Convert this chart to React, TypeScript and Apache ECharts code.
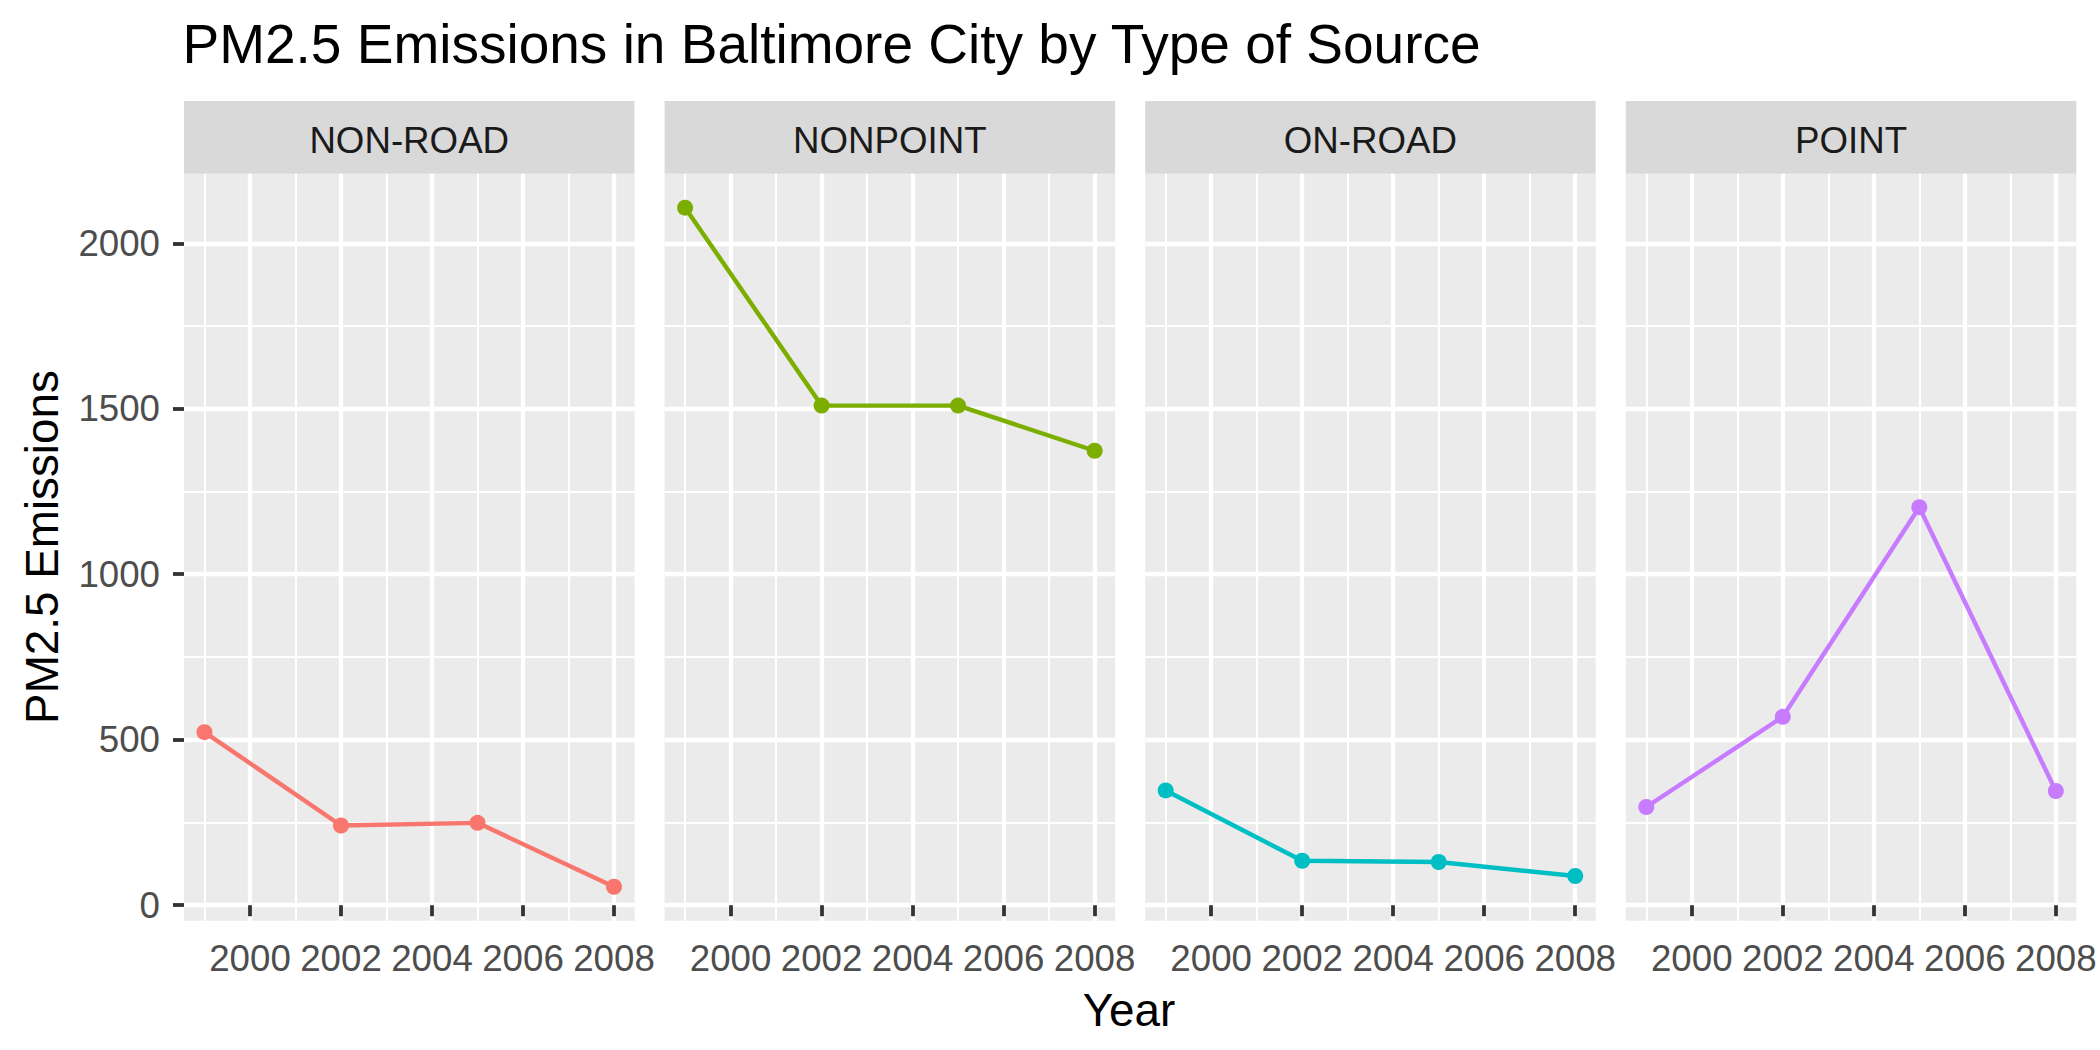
import React, { useEffect, useRef } from "react";
import * as echarts from "echarts";

const panels = ["NON-ROAD", "NONPOINT", "ON-ROAD", "POINT"];
const years = [1999, 2002, 2005, 2008];
const nonRoad = [522.94, 240.85, 248.93, 55.82];
const nonPoint = [2107.63, 1509.5, 1509.5, 1373.21];
const onRoad = [346.82, 134.31, 130.43, 88.28];
const point = [296.8, 569.26, 1202.49, 344.98];
const seriesValues = [nonRoad, nonPoint, onRoad, point];
const colors = ["#F8766D", "#7CAE00", "#00BFC4", "#C77CFF"];
const xMajor = [2000, 2002, 2004, 2006, 2008];
const xMinor = [1999, 2001, 2003, 2005, 2007];
const yMajor = [0, 500, 1000, 1500, 2000];
const yMinor = [250, 750, 1250, 1750];

const FONT = "'Liberation Sans', Arial, sans-serif";
const fmt = (v: number) => String(v);

export default function App() {
  const ref = useRef<HTMLDivElement>(null);
  useEffect(() => {
    if (!ref.current) return;
    const chart = echarts.init(ref.current, undefined, { renderer: "svg" });

    const xLo = Math.min(...years);
    const xHi = Math.max(...years);
    const xPad = (xHi - xLo) * 0.05;
    const allVals = seriesValues.flat();
    const yLo = Math.min(...allVals);
    const yHi = Math.max(...allVals);
    const yPad = (yHi - yLo) * 0.05;
    const xMin = xLo - xPad;
    const xMax = xHi + xPad;
    const yMin = yLo - yPad;
    const yMax = yHi + yPad;

    const panelLeft0 = 184;
    const panelStep = 480.6;
    const panelW = 450.5;
    const panelTop = 173.7;
    const panelBottom = 920.7;
    const panelH = panelBottom - panelTop;
    const stripTop = 101;

    const MAJOR_W = 4.3;
    const MINOR_W = 2.1;

    const grids: any[] = [];
    const xAxes: any[] = [];
    const yAxes: any[] = [];
    const series: any[] = [];
    const graphics: any[] = [];

    panels.forEach((name, i) => {
      const left = panelLeft0 + i * panelStep;
      grids.push({
        left,
        top: panelTop,
        width: panelW,
        height: panelH,
        show: true,
        backgroundColor: "#EBEBEB",
        borderWidth: 0,
        containLabel: false,
      });
      // major x
      xAxes.push({
        type: "value",
        gridIndex: i,
        min: xMin,
        max: xMax,
        axisLine: { show: false },
        axisTick: {
          show: true,
          customValues: xMajor,
          length: 11,
          lineStyle: { color: "#333333", width: 3.8 },
        },
        axisLabel: {
          show: true,
          customValues: xMajor,
          formatter: fmt,
          showMinLabel: true,
          showMaxLabel: true,
          hideOverlap: false,
          margin: 19,
          color: "#4D4D4D",
          fontSize: 36.7,
          fontFamily: FONT,
        },
        splitLine: {
          show: true,
          customValues: xMajor,
          lineStyle: { color: "#FFFFFF", width: MAJOR_W },
        },
        minorTick: { show: false },
        minorSplitLine: { show: false },
        z: 2,
      });
      // minor x
      xAxes.push({
        type: "value",
        gridIndex: i,
        min: xMin,
        max: xMax,
        axisLine: { show: false },
        axisTick: { show: false, customValues: xMinor },
        axisLabel: { show: false, customValues: xMinor },
        splitLine: {
          show: true,
          customValues: xMinor,
          lineStyle: { color: "#FFFFFF", width: MINOR_W },
        },
        z: 1,
      });
      // major y
      yAxes.push({
        type: "value",
        gridIndex: i,
        min: yMin,
        max: yMax,
        axisLine: { show: false },
        axisTick: {
          show: i === 0,
          customValues: yMajor,
          length: 11,
          lineStyle: { color: "#333333", width: 3.8 },
        },
        axisLabel: {
          show: i === 0,
          customValues: yMajor,
          formatter: fmt,
          showMinLabel: true,
          showMaxLabel: true,
          hideOverlap: false,
          margin: 24,
          color: "#4D4D4D",
          fontSize: 36.7,
          fontFamily: FONT,
        },
        splitLine: {
          show: true,
          customValues: yMajor,
          lineStyle: { color: "#FFFFFF", width: MAJOR_W },
        },
        z: 2,
      });
      // minor y
      yAxes.push({
        type: "value",
        gridIndex: i,
        min: yMin,
        max: yMax,
        axisLine: { show: false },
        axisTick: { show: false, customValues: yMinor },
        axisLabel: { show: false, customValues: yMinor },
        splitLine: {
          show: true,
          customValues: yMinor,
          lineStyle: { color: "#FFFFFF", width: MINOR_W },
        },
        z: 1,
      });

      series.push({
        type: "line",
        name,
        xAxisIndex: 2 * i,
        yAxisIndex: 2 * i,
        data: years.map((y, k) => [y, seriesValues[i][k]]),
        symbol: "circle",
        symbolSize: 16,
        showSymbol: true,
        lineStyle: { color: colors[i], width: 4.4 },
        itemStyle: { color: colors[i], borderWidth: 0 },
        z: 5,
        silent: true,
      });

      graphics.push({
        type: "rect",
        shape: { x: left, y: stripTop, width: panelW, height: panelTop - stripTop },
        style: { fill: "#D9D9D9" },
        silent: true,
      });
      graphics.push({
        type: "text",
        x: left + panelW / 2,
        y: 140.6,
        style: {
          text: name,
          fill: "#1A1A1A",
          font: `36.7px ${FONT}`,
          align: "center",
          verticalAlign: "middle",
        },
        silent: true,
      });
    });

    graphics.push({
      type: "text",
      x: 182.5,
      y: 44.2,
      style: {
        text: "PM2.5 Emissions in Baltimore City by Type of Source",
        fill: "#000000",
        font: `55px ${FONT}`,
        align: "left",
        verticalAlign: "middle",
      },
      silent: true,
    });
    graphics.push({
      type: "text",
      x: 1129,
      y: 1010.8,
      style: {
        text: "Year",
        fill: "#000000",
        font: `45.8px ${FONT}`,
        align: "center",
        verticalAlign: "middle",
      },
      silent: true,
    });
    graphics.push({
      type: "text",
      x: 42.4,
      y: 547,
      rotation: Math.PI / 2,
      style: {
        text: "PM2.5 Emissions",
        fill: "#000000",
        font: `45.8px ${FONT}`,
        align: "center",
        verticalAlign: "middle",
      },
      silent: true,
    });

    chart.setOption({
      animation: false,
      backgroundColor: "#FFFFFF",
      grid: grids,
      xAxis: xAxes,
      yAxis: yAxes,
      series,
      graphic: graphics,
    });

    return () => {
      chart.dispose();
    };
  }, []);

  return (
    <div
      ref={ref}
      style={{ position: "fixed", left: 0, top: 0, width: 2100, height: 1050 }}
    />
  );
}
